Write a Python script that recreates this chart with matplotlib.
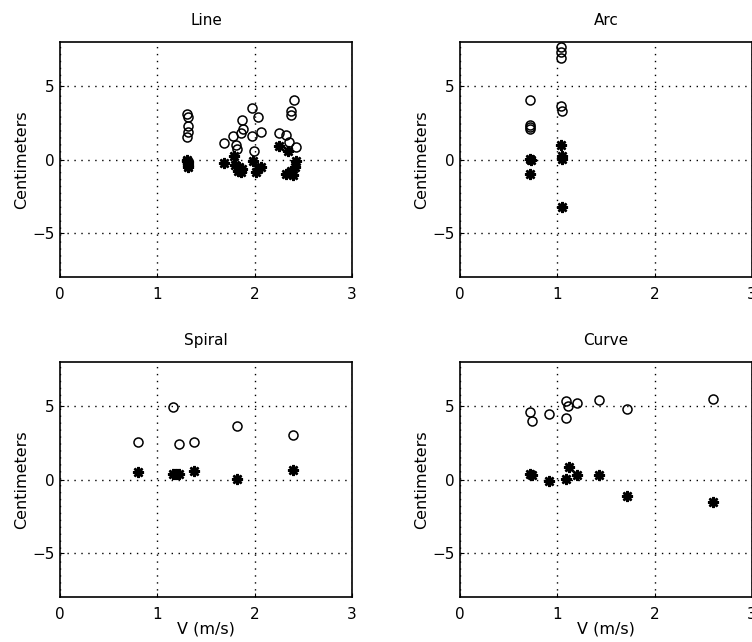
import matplotlib
matplotlib.use('Agg')
import matplotlib.pyplot as plt

plt.rcParams['font.family'] = ['DejaVu Sans']

# Line
line_circ_v = [1.30, 1.31, 1.32, 1.31, 1.30,
               1.69, 1.78, 1.87, 1.88, 1.86, 1.81, 1.82, 1.97, 2.03, 2.06, 1.97, 1.99,
               2.40, 2.37, 2.37, 2.25, 2.32, 2.35, 2.42]
line_circ_y = [3.1, 2.9, 2.3, 1.9, 1.5,
               1.1, 1.6, 2.7, 2.1, 1.8, 1.0, 0.7, 3.5, 2.9, 1.9, 1.6, 0.6,
               4.05, 3.3, 3.0, 1.8, 1.7, 1.2, 0.85]
line_star_v = [1.30, 1.31, 1.31, 1.32, 1.30,
               1.69, 1.79, 1.80, 1.86, 1.87, 1.84, 1.98, 2.03, 2.06, 2.01, 1.83,
               2.25, 2.34, 2.42, 2.41, 2.32, 2.39, 2.37]
line_star_y = [0.0, -0.2, -0.4, -0.5, -0.1,
               -0.25, 0.27, -0.35, -0.87, -0.64, -0.52, -0.07, -0.64, -0.52, -0.87, -0.8,
               0.95, 0.6, -0.07, -0.5, -0.97, -1.08, -0.75]

# Arc
arc_circ_v = [0.72, 0.72, 0.72, 0.72, 1.04, 1.04, 1.04, 1.04, 1.05]
arc_circ_y = [4.06, 2.32, 2.2, 2.1, 7.64, 7.3, 6.9, 3.67, 3.3]
arc_star_v = [0.72, 0.73, 0.72, 1.04, 1.05, 1.05, 1.05]
arc_star_y = [0.05, 0.0, -1.0, 1.0, 0.27, 0.05, -3.2]

# Spiral
spiral_circ_v = [0.80, 1.16, 1.22, 1.38, 1.82, 2.39]
spiral_circ_y = [2.58, 4.97, 2.43, 2.58, 3.67, 3.0]
spiral_star_v = [0.80, 1.16, 1.19, 1.22, 1.38, 1.82, 2.39]
spiral_star_y = [0.50, 0.39, 0.39, 0.39, 0.57, 0.05, 0.66]

# Curve
curve_circ_v = [0.72, 0.74, 0.91, 1.09, 1.11, 1.09, 1.20, 1.43, 1.72, 2.60]
curve_circ_y = [4.58, 3.95, 4.47, 5.37, 5.03, 4.2, 5.24, 5.4, 4.79, 5.47]
curve_star_v = [0.72, 0.74, 0.91, 1.09, 1.12, 1.20, 1.43, 1.72, 2.60]
curve_star_y = [0.38, 0.34, -0.12, 0.04, 0.88, 0.32, 0.32, -1.13, -1.54]

panels = [
    ('Line', line_circ_v, line_circ_y, line_star_v, line_star_y),
    ('Arc', arc_circ_v, arc_circ_y, arc_star_v, arc_star_y),
    ('Spiral', spiral_circ_v, spiral_circ_y, spiral_star_v, spiral_star_y),
    ('Curve', curve_circ_v, curve_circ_y, curve_star_v, curve_star_y),
]

# axes rectangles in figure fractions (left, bottom, width, height)
W, H = 752, 642
rects = [
    (60 / W, (H - 277) / H, 292 / W, 235 / H),
    (460 / W, (H - 277) / H, 292 / W, 235 / H),
    (60 / W, (H - 597) / H, 292 / W, 235 / H),
    (460 / W, (H - 597) / H, 292 / W, 235 / H),
]

fig = plt.figure(figsize=(W / 100, H / 100), dpi=100)

for i, (title, cv, cy, sv, sy) in enumerate(panels):
    ax = fig.add_axes(rects[i])
    ax.plot(cv, cy, 'o', markerfacecolor='none', markeredgecolor='black',
            markersize=6.5, markeredgewidth=1.1, clip_on=False)
    ax.plot(sv, sy, linestyle='none', marker=(8, 2, 0), color='black',
            markersize=8, markeredgewidth=1.8)
    ax.set_xlim(0, 3)
    ax.set_ylim(-8, 8)
    ax.set_xticks([0, 1, 2, 3])
    ax.set_yticks([-5, 0, 5])
    ax.set_yticklabels(['\u22125', '0', '5'])
    ax.grid(True, linestyle=(0, (1, 4)), color='black', linewidth=1.0)
    ax.tick_params(direction='in', length=3, labelsize=11)
    ax.tick_params(axis='x', pad=7)
    ax.tick_params(axis='y', pad=4)
    for s in ax.spines.values():
        s.set_linewidth(1.2)
    ax.set_title(title, fontsize=11, pad=12)
    ax.set_ylabel('Centimeters', fontsize=11.5, labelpad=2)
    if i >= 2:
        ax.set_xlabel('V (m/s)', fontsize=11.5, labelpad=0)

fig.savefig('out.png', dpi=100)
